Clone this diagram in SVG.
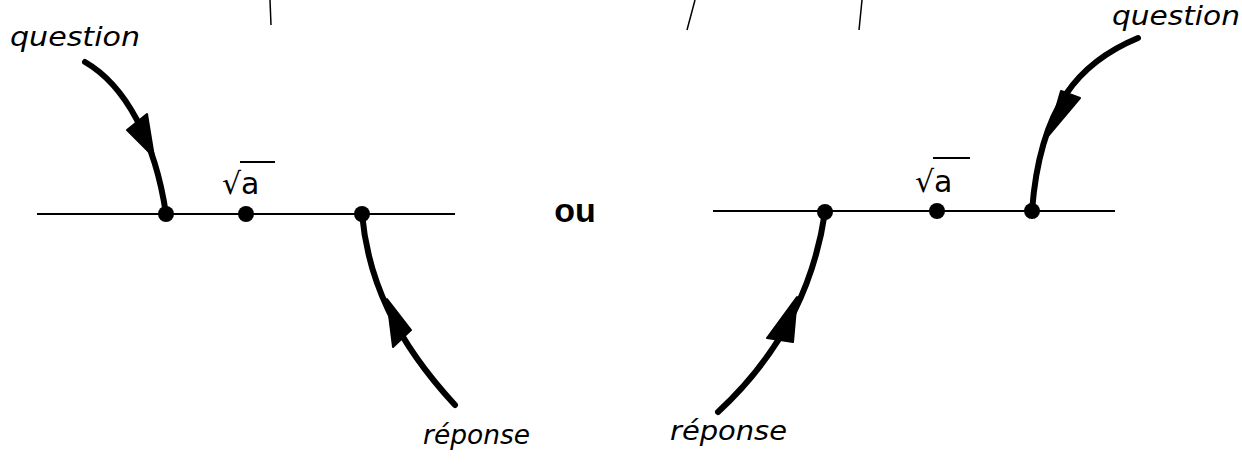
<svg xmlns="http://www.w3.org/2000/svg" width="1242" height="469" viewBox="0 0 1242 469">
<defs>
<style>
.axis{stroke:#000;stroke-width:2;fill:none}
.arrow{stroke:#000;stroke-width:6;fill:none;stroke-linecap:round}
.head{fill:#000;stroke:#000;stroke-width:2;stroke-linejoin:round}
.dot{fill:#000}
.lbl{font-family:"DejaVu Sans","Liberation Sans",sans-serif;font-style:oblique;font-size:26px;fill:#000}
.ou{font-family:"Liberation Sans",sans-serif;font-weight:bold;font-size:34px;fill:#000}
.root{font-family:"DejaVu Sans","Liberation Sans",sans-serif;font-size:30px;fill:#000}
.frag{stroke:#000;stroke-width:1.5;fill:none}
</style>
</defs>
<rect width="1242" height="469" fill="#fff"/>
<g id="fragments">
<line class="frag" x1="270" y1="0" x2="271" y2="25"/>
<line class="frag" x1="695" y1="0" x2="687" y2="30"/>
<line class="frag" x1="862" y1="0" x2="859" y2="30"/>
</g>
<g id="left-axis">
<line class="axis" x1="37" y1="214" x2="455" y2="214"/>
</g>
<g id="right-axis">
<line class="axis" x1="713" y1="211" x2="1115" y2="211"/>
</g>
<g id="connectors">
<path class="arrow" d="M85,62 C125,85 155,140 166,214"/>
<polygon class="head" points="127,130 147,114 154,157"/>
<path class="arrow" d="M1138,38 C1080,62 1040,105 1032,211" stroke-width="5"/>
<polygon class="head" points="1061,91 1080,98 1048,136"/>
<path class="arrow" d="M362,214 C368,280 395,340 455,405"/>
<polygon class="head" points="387,299 393,347 411,330"/>
<path class="arrow" d="M825,212 C815,280 785,350 718,412"/>
<polygon class="head" points="797,297 767,338 793,342"/>
</g>
<g id="left-question">
<text class="lbl" x="10" y="46" textLength="130" lengthAdjust="spacingAndGlyphs">question</text>
</g>
<g id="right-question">
<text class="lbl" x="1112" y="25" textLength="128" lengthAdjust="spacingAndGlyphs">question</text>
</g>
<g id="left-reponse">
<text class="lbl" x="423" y="444" textLength="107" lengthAdjust="spacingAndGlyphs">réponse</text>
</g>
<g id="right-reponse">
<text class="lbl" x="670" y="440" textLength="117" lengthAdjust="spacingAndGlyphs">réponse</text>
</g>
<g id="ou">
<text class="ou" x="575" y="222" text-anchor="middle">ou</text>
</g>
<g id="left-q-point">
<circle class="dot" cx="166" cy="214" r="8"/>
</g>
<g id="left-root-point">
<circle class="dot" cx="246" cy="214" r="8"/>
<text class="root" x="222" y="194">√a</text>
<line class="axis" x1="240" y1="162" x2="275" y2="162"/>
</g>
<g id="left-r-point">
<circle class="dot" cx="362" cy="214" r="8"/>
</g>
<g id="right-r-point">
<circle class="dot" cx="825" cy="212" r="8"/>
</g>
<g id="right-root-point">
<circle class="dot" cx="937" cy="211" r="8"/>
<text class="root" x="915" y="192">√a</text>
<line class="axis" x1="933" y1="158" x2="970" y2="158"/>
</g>
<g id="right-q-point">
<circle class="dot" cx="1032" cy="211" r="8"/>
</g>
</svg>
